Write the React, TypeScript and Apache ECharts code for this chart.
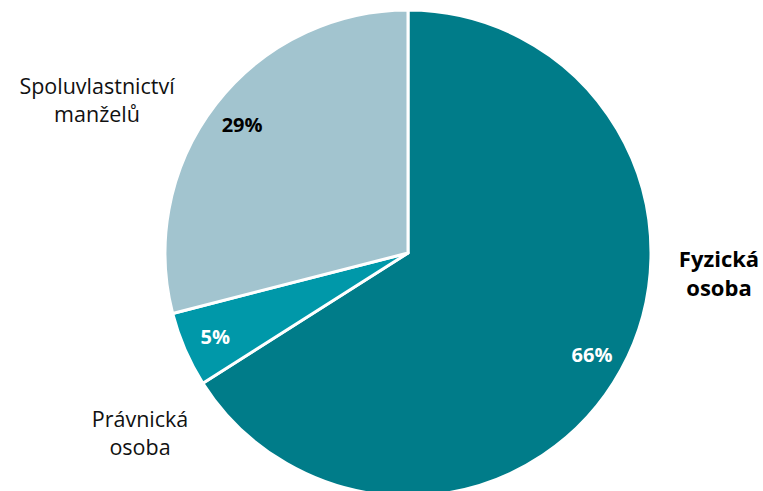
import React, { useEffect, useRef } from "react";
import * as echarts from "echarts";

const categories = ["Fyzická osoba", "Právnická osoba", "Spoluvlastnictví manželů"];
const values = [66, 5, 29];
const colors = ["#007C89", "#0098A9", "#A2C4CF"];
const valueLabelColors = ["#ffffff", "#ffffff", "#000000"];

const FONT = "'Open Sans', 'Noto Sans', sans-serif";

export default function App() {
  const ref = useRef<HTMLDivElement>(null);
  useEffect(() => {
    const chart = echarts.init(ref.current!, null, { renderer: "svg" });
    const data = categories.map((name, i) => ({
      name,
      value: values[i],
      itemStyle: { color: colors[i] },
    }));
    const labelData = categories.map((name, i) => ({
      name,
      value: values[i],
      label: { color: valueLabelColors[i] },
    }));
    chart.setOption({
      animation: false,
      backgroundColor: "#ffffff",
      series: [
        {
          type: "pie",
          center: [408, 253],
          radius: [0, 243],
          startAngle: 90,
          clockwise: true,
          silent: true,
          label: { show: false },
          labelLine: { show: false },
          itemStyle: { borderColor: "#ffffff", borderWidth: 3 },
          data,
        },
        {
          type: "pie",
          center: [408, 253],
          radius: [198, 216],
          startAngle: 90,
          clockwise: true,
          silent: true,
          itemStyle: { color: "rgba(0,0,0,0)" },
          labelLine: { show: false },
          label: {
            show: true,
            position: "inside",
            formatter: (p: any) => `${p.value}%`,
            fontFamily: FONT,
            fontWeight: "bold",
            fontSize: 20,
          },
          data: labelData,
        },
      ],
      graphic: [
        {
          type: "text",
          x: 719,
          y: 272,
          style: {
            text: "Fyzická\nosoba",
            fontFamily: FONT,
            fontWeight: "bold",
            fontSize: 22,
            lineHeight: 29,
            fill: "#000000",
            align: "center",
            verticalAlign: "middle",
          },
        },
        {
          type: "text",
          x: 97,
          y: 99,
          style: {
            text: "Spoluvlastnictví\nmanželů",
            fontFamily: FONT,
            fontSize: 21.5,
            lineHeight: 28,
            fill: "#111111",
            align: "center",
            verticalAlign: "middle",
          },
        },
        {
          type: "text",
          x: 140,
          y: 432,
          style: {
            text: "Právnická\nosoba",
            fontFamily: FONT,
            fontSize: 21.5,
            lineHeight: 28,
            fill: "#111111",
            align: "center",
            verticalAlign: "middle",
          },
        },
      ],
    });
    return () => chart.dispose();
  }, []);
  return (
    <div
      ref={ref}
      style={{ position: "fixed", left: 0, top: 0, width: 763, height: 491 }}
    />
  );
}
